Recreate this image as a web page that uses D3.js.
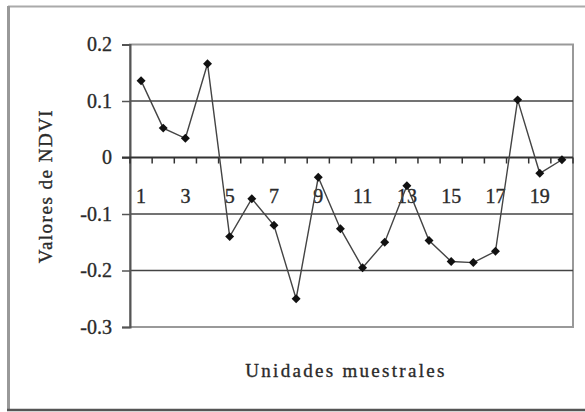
<!DOCTYPE html>
<html>
<head>
<meta charset="utf-8">
<script src="https://cdn.jsdelivr.net/npm/d3@7"></script>
<style>
  html, body { margin: 0; padding: 0; background: #fff; }
  svg { display: block; }
</style>
</head>
<body>
<svg id="chart" width="585" height="412"></svg>
<script>
// ---- data ----
const categories = d3.range(1, 21);
const ndviValues = [0.136, 0.052, 0.034, 0.166, -0.140, -0.073, -0.120, -0.250, -0.035, -0.126,
                    -0.195, -0.150, -0.050, -0.147, -0.184, -0.186, -0.166, 0.102, -0.028, -0.004];
const yTickValues = [0.2, 0.1, 0, -0.1, -0.2, -0.3];
const yTickLabels = ["0.2", "0.1", "0", "-0.1", "-0.2", "-0.3"];
const xLabelCategories = [1, 3, 5, 7, 9, 11, 13, 15, 17, 19];
const xTitle = "Unidades muestrales";
const yTitle = "Valores de NDVI";

// ---- layout ----
const FONT = "Liberation Serif, Times New Roman, serif";
const TEXT_COLOR = "#2a2a2a";
const svg = d3.select("#chart");
const plot = { left: 130, right: 573, top: 44.5, bottom: 327 };

const x = d3.scaleBand().domain(categories).range([plot.left, plot.right]);
const y = d3.scaleLinear().domain([-0.3, 0.2]).range([plot.bottom, plot.top]);

// outer frame
svg.append("line").attr("x1", 8).attr("x2", 585).attr("y1", 6.5).attr("y2", 6.5)
  .attr("stroke", "#aaa").attr("stroke-width", 2);
svg.append("line").attr("x1", 8.5).attr("x2", 8.5).attr("y1", 6).attr("y2", 411)
  .attr("stroke", "#999").attr("stroke-width", 3);
svg.append("line").attr("x1", 7).attr("x2", 585).attr("y1", 410).attr("y2", 410)
  .attr("stroke", "#555").attr("stroke-width", 2.5);

// plot frame (gray)
svg.append("rect")
  .attr("x", plot.left).attr("y", y(0.2))
  .attr("width", plot.right - plot.left).attr("height", y(-0.3) - y(0.2))
  .attr("fill", "none").attr("stroke", "#999").attr("stroke-width", 2);

// horizontal gridlines
svg.append("g").selectAll("line")
  .data(yTickValues.filter(v => v !== 0.2 && v !== -0.3 && v !== 0))
  .join("line")
  .attr("x1", plot.left).attr("x2", plot.right)
  .attr("y1", d => y(d)).attr("y2", d => y(d))
  .attr("stroke", "#444").attr("stroke-width", 1.5);

// y axis
const yAxis = d3.axisLeft(y).tickValues(yTickValues)
  .tickFormat((d, i) => yTickLabels[i]).tickSize(8).tickPadding(10);
const gy = svg.append("g").attr("transform", `translate(${plot.left},0)`).call(yAxis);
gy.attr("font-family", FONT).attr("font-size", 20);
gy.select(".domain").attr("stroke", "#555").attr("stroke-width", 2);
gy.selectAll(".tick line").attr("stroke", "#555").attr("stroke-width", 1.5);
gy.selectAll(".tick text").attr("fill", TEXT_COLOR)
  .attr("stroke", TEXT_COLOR).attr("stroke-width", 0.35);

// x axis on zero line (ticks at band boundaries)
const zeroY = y(0);
svg.append("line").attr("x1", plot.left - 8).attr("x2", plot.right)
  .attr("y1", zeroY).attr("y2", zeroY).attr("stroke", "#333").attr("stroke-width", 2);
const boundaries = categories.map(c => x(c)).concat([plot.right]);
svg.append("g").selectAll("line").data(boundaries).join("line")
  .attr("x1", d => d).attr("x2", d => d)
  .attr("y1", zeroY).attr("y2", zeroY + 6)
  .attr("stroke", "#333").attr("stroke-width", 1.5);

// x category labels
svg.append("g").attr("font-family", FONT).attr("font-size", 20)
  .attr("fill", TEXT_COLOR).attr("stroke", TEXT_COLOR).attr("stroke-width", 0.35)
  .selectAll("text").data(xLabelCategories).join("text")
  .attr("x", d => x(d) + x.bandwidth() / 2)
  .attr("y", 203)
  .attr("text-anchor", "middle")
  .text(d => d);

// line + markers
const line = d3.line()
  .x((d, i) => x(categories[i]) + x.bandwidth() / 2)
  .y(d => y(d));
svg.append("path").datum(ndviValues)
  .attr("d", line).attr("fill", "none")
  .attr("stroke", "#444").attr("stroke-width", 1.4);

const marker = d3.symbol().type(d3.symbolSquare).size(40);
svg.append("g").selectAll("path").data(ndviValues).join("path")
  .attr("d", marker)
  .attr("transform", (d, i) => `translate(${x(categories[i]) + x.bandwidth() / 2},${y(d)}) rotate(45)`)
  .attr("fill", "#111");

// titles
svg.append("text")
  .attr("x", 346).attr("y", 377)
  .attr("text-anchor", "middle")
  .attr("font-family", FONT).attr("font-size", 19)
  .attr("fill", TEXT_COLOR).attr("stroke", TEXT_COLOR).attr("stroke-width", 0.35)
  .attr("letter-spacing", 2.3)
  .text(xTitle);

svg.append("text")
  .attr("transform", "translate(52,186) rotate(-90)")
  .attr("text-anchor", "middle")
  .attr("font-family", FONT).attr("font-size", 19)
  .attr("fill", TEXT_COLOR).attr("stroke", TEXT_COLOR).attr("stroke-width", 0.35)
  .attr("letter-spacing", 1.5)
  .text(yTitle);
</script>
</body>
</html>
